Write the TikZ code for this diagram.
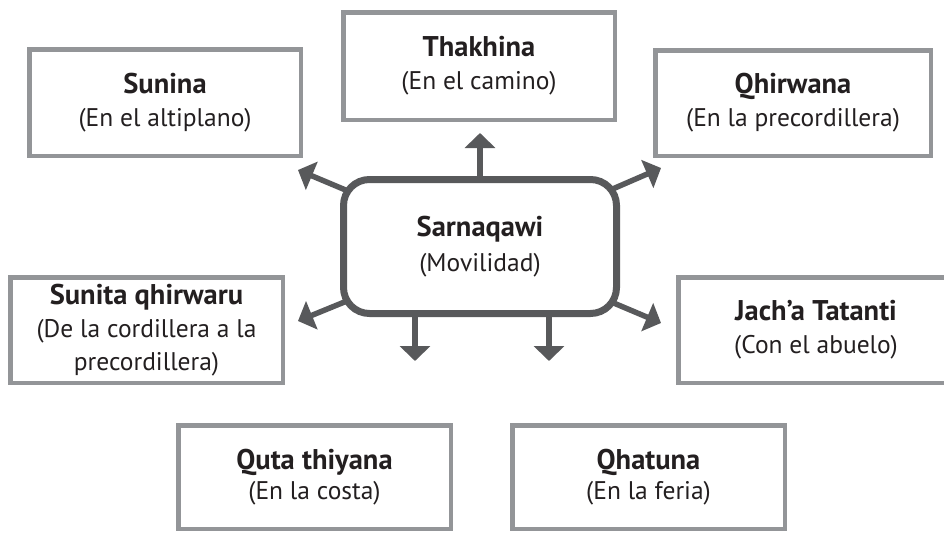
\documentclass[tikz,border=0pt]{standalone}
\usepackage{fontspec}
\setmainfont{PT Sans}
\usetikzlibrary{arrows.meta}
\definecolor{boxgray}{HTML}{939598}
\definecolor{darkgray}{HTML}{58595B}
\definecolor{txt}{HTML}{231F20}
\newcommand\ttl[1]{{\fontsize{28.5}{33}\selectfont\bfseries #1}}
\pgfdeclarelayer{background}
\pgfsetlayers{background,main}
\begin{document}
\begin{tikzpicture}[x=1pt,y=-1pt,
  graybox/.style={draw=boxgray,line width=4.5pt,fill=white,inner sep=0pt,
    align=center,text=txt,font=\fontsize{25.5}{33}\selectfont},
  hub/.style={draw=darkgray,line width=7pt,fill=white,rounded corners=26pt,
    inner sep=0pt,align=center,text=txt,font=\fontsize{25.5}{35}\selectfont,
    minimum width=273pt,minimum height=134pt},
  conn/.style={draw=darkgray,line width=5.5pt,
    -{Triangle[width=30pt,length=15pt]}}]
\useasboundingbox (0,0) rectangle (944,533);
\node[graybox,minimum width=271.5pt,minimum height=106.5pt] (sunina) at (165,102.5)
  {\ttl{Sunina}\\(En el altiplano)};
\node[graybox,minimum width=271.5pt,minimum height=107.5pt] (thakhina) at (479,66)
  {\ttl{Thakhina}\\(En el camino)};
\node[graybox,minimum width=275.5pt,minimum height=105.5pt] (qhirwana) at (793,103)
  {\ttl{Qhirwana}\\(En la precordillera)};
\node[graybox,minimum width=272.5pt,minimum height=105.5pt] (sunita) at (146.5,330)
  {\ttl{Sunita qhirwaru}\\(De la cordillera a la\\precordillera)};
\node[graybox,minimum width=275.5pt,minimum height=105.5pt] (jacha) at (816,330)
  {\ttl{Jach’a Tatanti}\\(Con el abuelo)};
\node[graybox,minimum width=272.5pt,minimum height=103.5pt,
  font=\fontsize{25.5}{30}\selectfont] (quta) at (314.5,477)
  {\ttl{Quta thiyana}\\(En la costa)};
\node[graybox,minimum width=272.5pt,minimum height=103.5pt,
  font=\fontsize{25.5}{30}\selectfont] (qhatuna) at (648.5,477)
  {\ttl{Qhatuna}\\(En la feria)};
\node[hub] (c) at (480,246.5) {\ttl{Sarnaqawi}\\(Movilidad)};
\coordinate (tT) at (480,133);
\coordinate (tUL) at (298,170);
\coordinate (tUR) at (661,168);
\coordinate (tLL) at (298,321);
\coordinate (tLR) at (661,323);
\coordinate (tBL) at (415,361);
\coordinate (tBR) at (549,361);
\begin{pgfonlayer}{background}
\draw[conn] (c.center) -- (tUL);
\draw[conn] (c.center) -- (tUR);
\draw[conn] (c.center) -- (tLL);
\draw[conn] (c.center) -- (tLR);
\end{pgfonlayer}
\draw[conn] (c.north) -- (tT);
\draw[conn] (c.south -| tBL) -- (tBL);
\draw[conn] (c.south -| tBR) -- (tBR);
\end{tikzpicture}
\end{document}
